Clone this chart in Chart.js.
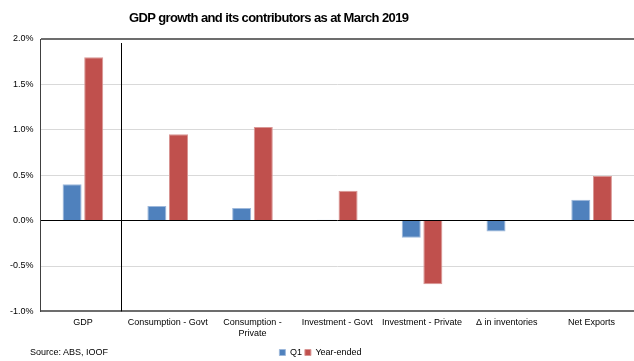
<!DOCTYPE html>
<html>
<head>
<meta charset="utf-8">
<script src="https://cdn.jsdelivr.net/npm/chart.js@4/dist/chart.umd.min.js"></script>
<style>
  html, body { margin: 0; padding: 0; background: #fff; }
  #wrap { position: relative; width: 634px; height: 361px; }
  #title { position: absolute; left: 129px; top: 10px; font: bold 13px "Liberation Sans", Arial, sans-serif; letter-spacing: -0.6px; color: #000; white-space: nowrap; }
  #source { position: absolute; left: 30px; top: 347px; font: 9px "Liberation Sans", Arial, sans-serif; color: #000; }
</style>
</head>
<body>
<div id="wrap">
  <canvas id="c" width="634" height="361"></canvas>
  <div id="title"></div>
  <div id="source"></div>
</div>
<script>
const titleText = "GDP growth and its contributors as at March 2019";
const sourceText = "Source: ABS, IOOF";
const categories = ["GDP", "Consumption - Govt", ["Consumption -", "Private"], "Investment - Govt", "Investment - Private", "Δ in inventories", "Net Exports"];
const seriesNames = ["Q1", "Year-ended"];
const q1Values = [0.40, 0.16, 0.14, 0.01, -0.19, -0.12, 0.23];
const yearEndedValues = [1.80, 0.95, 1.03, 0.33, -0.70, -0.005, 0.49];
const yTicks = [-1.0, -0.5, 0.0, 0.5, 1.0, 1.5, 2.0];

document.getElementById('title').textContent = titleText;
document.getElementById('source').textContent = sourceText;

const separatorPlugin = {
  id: 'separator',
  afterDatasetsDraw(chart) {
    const x = chart.scales.x, y = chart.scales.y, ctx = chart.ctx;
    const px = x.getPixelForValue(0) + 0.45 * (x.getPixelForValue(1) - x.getPixelForValue(0));
    ctx.save();
    ctx.strokeStyle = '#000';
    ctx.lineWidth = 1;
    ctx.beginPath();
    ctx.moveTo(Math.round(px) + 0.5, y.top + 4);
    ctx.lineTo(Math.round(px) + 0.5, y.bottom);
    ctx.stroke();
    ctx.restore();
  }
};

const font = { family: '"Liberation Sans", Arial, sans-serif', size: 9 };

new Chart(document.getElementById('c'), {
  type: 'bar',
  data: {
    labels: categories,
    datasets: [
      { label: seriesNames[0], data: q1Values, backgroundColor: '#4F81BD', borderColor: '#9DB8DB', borderWidth: 1 },
      { label: seriesNames[1], data: yearEndedValues, backgroundColor: '#C0504D', borderColor: '#D99694', borderWidth: 1 }
    ]
  },
  options: {
    responsive: false,
    animation: false,
    layout: { padding: { left: 3, right: -4, top: 39, bottom: -6 } },
    datasets: { bar: { categoryPercentage: 0.51, barPercentage: 0.88 } },
    plugins: {
      title: { display: false },
      legend: {
        position: 'bottom',
        labels: { color: '#000', font: font, boxWidth: 6, boxHeight: 6, padding: 3 }
      },
      tooltip: { enabled: false }
    },
    scales: {
      x: {
        grid: { display: false, drawTicks: false },
        border: { display: false },
        ticks: { color: '#000', font: font, maxRotation: 0, autoSkip: false, padding: 6 }
      },
      y: {
        min: -1, max: 2,
        afterBuildTicks(scale) { scale.ticks = yTicks.map(v => ({ value: v })); },
        ticks: { color: '#000', font: font, padding: 7, callback: v => Number(v).toFixed(1) + '%' },
        grid: {
          drawTicks: false,
          color: ctx => {
            const v = ctx.tick.value;
            if (v === 0) return '#000';
            if (v === 2 || v === -1) return '#6d6d6d';
            return '#d9d9d9';
          },
          lineWidth: ctx => {
            const v = ctx.tick.value;
            if (v === 2 || v === -1) return 2;
            return 1;
          }
        },
        border: { display: true, color: '#404040', width: 1 }
      }
    }
  },
  plugins: [separatorPlugin]
});
</script>
</body>
</html>
